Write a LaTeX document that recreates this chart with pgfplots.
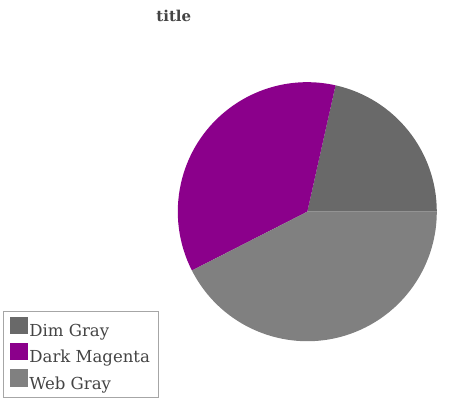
\documentclass[border=0pt]{standalone}
\usepackage{fontspec}
\setmainfont{DejaVu Serif}
\usepackage{pgfplots}
\usepackage{pgfplotstable}
\pgfplotsset{compat=1.18}

\definecolor{dimgray}{HTML}{696969}
\definecolor{darkmagenta}{HTML}{8B008B}
\definecolor{webgray}{HTML}{808080}
\definecolor{txt}{HTML}{444444}

% pie shares in percent
\pgfplotstableread{
name value
DimGray 21.5
DarkMagenta 36
WebGray 42.5
}\piedata

\pgfplotstablegetelem{0}{value}\of\piedata \pgfmathsetmacro\va{\pgfplotsretval}
\pgfplotstablegetelem{1}{value}\of\piedata \pgfmathsetmacro\vb{\pgfplotsretval}
\pgfmathsetmacro\aA{3.6*\va}
\pgfmathsetmacro\aB{\aA+3.6*\vb}

\begin{document}
\begin{tikzpicture}
\useasboundingbox (0,0) rectangle (462bp,400bp);
\begin{axis}[
    at={(0,0)}, anchor=south west,
    x=1bp, y=1bp,
    xmin=0, xmax=462, ymin=0, ymax=400,
    enlargelimits=false,
    hide axis, clip=false,
    legend style={at={(axis cs:3,2)}, anchor=south west,
        draw=gray!70, line width=0.8bp, text=txt,
        font=\fontsize{16.6}{20}\selectfont,
        inner xsep=6.5bp, inner ysep=5bp, row sep=2.8bp,
        cells={anchor=west}},
    legend image code/.code={\fill[#1] (0bp,-2.6bp) rectangle (16.7bp,14.1bp);},
]
\addlegendimage{dimgray, fill=dimgray}
\addlegendentry{Dim Gray}
\addlegendimage{darkmagenta, fill=darkmagenta}
\addlegendentry{Dark Magenta}
\addlegendimage{webgray, fill=webgray}
\addlegendentry{Web Gray}

\fill[dimgray] (axis cs:307.3,188.3) -- ++(0:129.5bp)
    arc[start angle=0, end angle=\aA, radius=129.5bp] -- cycle;
\fill[darkmagenta] (axis cs:307.3,188.3) -- ++(\aA:129.5bp)
    arc[start angle=\aA, end angle=\aB, radius=129.5bp] -- cycle;
\fill[webgray] (axis cs:307.3,188.3) -- ++(\aB:129.5bp)
    arc[start angle=\aB, end angle=360, radius=129.5bp] -- cycle;

\node[anchor=base, text=txt, font=\bfseries\fontsize{15}{18}\selectfont]
    at (axis cs:173.8,379) {title};
\end{axis}
\end{tikzpicture}
\end{document}
